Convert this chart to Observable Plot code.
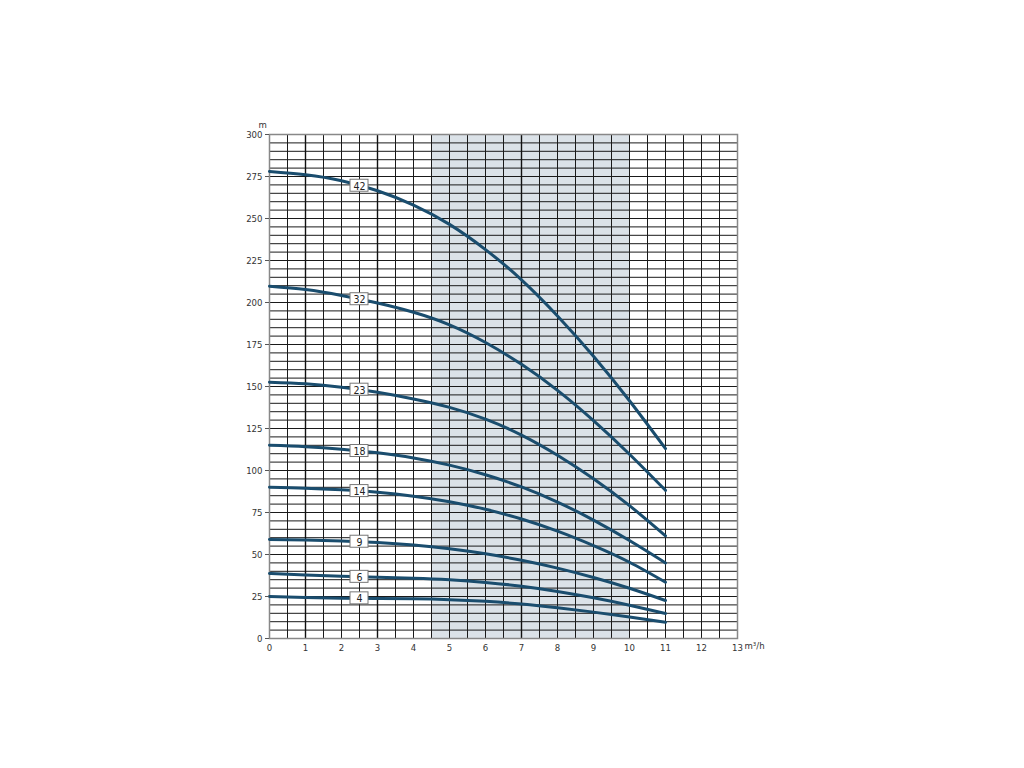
<!DOCTYPE html>
<html>
<head>
<meta charset="utf-8">
<script src="https://cdn.jsdelivr.net/npm/d3@7"></script>
<script src="https://cdn.jsdelivr.net/npm/@observablehq/plot@0.6"></script>
<style>
  html, body { margin: 0; padding: 0; background: #fff; }
  #chart svg { display: block; }
</style>
</head>
<body>
<div id="chart"></div>
<script>
// Flow (m³/h) sample points
const flow = [0, 1, 2, 3, 4, 5, 6, 7, 8, 9, 10, 11];
// Head (m) per pump stage count
const stages = ["42", "32", "23", "18", "14", "9", "6", "4"];
const head42 = [278, 276, 272.5, 266.5, 258, 246.5, 231.5, 213.5, 192, 168, 141.5, 113];
const head32 = [209.7, 207.7, 204.2, 199.7, 194.2, 186.7, 176.2, 163.2, 147.7, 129.7, 109.7, 88.2];
const head23 = [152.6, 151.6, 149.6, 146.6, 142.6, 137.6, 130.6, 121.1, 109.1, 95.1, 79.1, 61.1];
const head18 = [115, 114.2, 112.7, 110.5, 107.5, 103.2, 97.5, 90.2, 81.2, 70.5, 58.3, 45];
const head14 = [90, 89.5, 88.5, 87, 84.7, 81.4, 76.9, 71.1, 63.9, 55.3, 45.4, 33.5];
const head9  = [59, 58.7, 58.1, 57.1, 55.6, 53.4, 50.4, 46.6, 41.9, 36.3, 29.9, 22.6];
const head6  = [38.7, 37.8, 37, 36.4, 35.8, 34.9, 33.4, 31.1, 28, 24.2, 19.8, 14.9];
const head4  = [25, 24.4, 24, 23.8, 23.6, 23.1, 22.1, 20.5, 18.3, 15.7, 12.8, 9.7];
const heads = [head42, head32, head23, head18, head14, head9, head6, head4];
// Label position along flow axis
const labelFlow = 2.5;
// Recommended operating range (shaded)
const rangeStart = 4.5, rangeEnd = 10;
// Axis ticks
const xTicks = d3.range(0, 14, 1);
const yTicks = d3.range(0, 301, 25);
const xGrid = d3.range(0, 13.01, 0.5);
const xGridBold = [1, 3, 7];
const yGrid = d3.range(0, 301, 5);

const curveData = [];
stages.forEach((s, i) => flow.forEach((f, j) => curveData.push({stage: s, q: f, h: heads[i][j]})));

const labels = stages.map((s, i) => {
  const h = heads[i];
  const j = Math.floor(labelFlow);
  const t = labelFlow - j;
  return {stage: s, q: labelFlow, h: h[j] * (1 - t) + h[j + 1] * t};
});

const font = "'DejaVu Sans Condensed', 'Liberation Sans Narrow', 'Roboto', sans-serif";

const chart = Plot.plot({
  width: 1024,
  height: 768,
  marginLeft: 269,
  marginRight: 287,
  marginTop: 134,
  marginBottom: 130,
  style: {fontFamily: font, color: "#333", background: "#fff"},
  x: {domain: [0, 13]},
  y: {domain: [0, 300]},
  marks: [
    Plot.rect([{x1: rangeStart, x2: rangeEnd}], {x1: "x1", x2: "x2", y1: 0, y2: 300, fill: "#dbe2e8"}),
    Plot.ruleY(yGrid, {stroke: "#1a1a1a", strokeWidth: 1}),
    Plot.ruleX(xGrid, {stroke: "#1a1a1a", strokeWidth: 1}),
    Plot.ruleX(xGridBold, {stroke: "#111", strokeWidth: 1.4}),
    Plot.frame({stroke: "#888", strokeWidth: 1.5}),
    Plot.line(curveData, {x: "q", y: "h", z: "stage", curve: "natural", stroke: "#1a4d6e", strokeWidth: 3}),
    Plot.rect(labels, {x1: "q", x2: "q", y1: "h", y2: "h", insetLeft: -9, insetRight: -9, insetTop: -6, insetBottom: -6, fill: "#fff", stroke: "#777", strokeWidth: 1}),
    Plot.text(labels, {x: "q", y: "h", text: "stage", fontSize: 10.5, fill: "#222", dy: 0.5}),
    Plot.axisY(yTicks, {tickSize: 4, tickPadding: 3, fontSize: 9.5, label: null, stroke: "#555"}),
    Plot.axisX(xTicks, {tickSize: 0, tickPadding: 6, fontSize: 9.5, label: null}),
    Plot.text(["m"], {frameAnchor: "top-left", dx: -11, dy: -13, fontSize: 9.5, fill: "#333"}),
    Plot.text(["m³/h"], {frameAnchor: "bottom-right", dx: 7, dy: 10, textAnchor: "start", fontSize: 9.5, fill: "#333"})
  ]
});
document.getElementById("chart").appendChild(chart);
</script>
</body>
</html>
